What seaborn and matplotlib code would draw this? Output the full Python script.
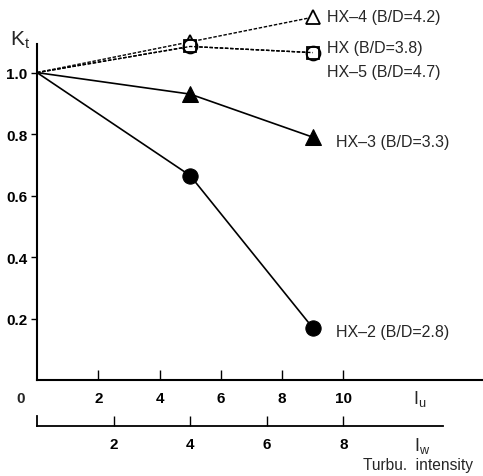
import matplotlib
matplotlib.use("Agg")
import matplotlib.pyplot as plt
import seaborn as sns
import pandas as pd

# turbulence intensity Iu (%) of the measured points
iu = [0, 5, 9]
# Kt values per section model
hx2 = [1.0, 0.665, 0.17]
hx3 = [1.0, 0.93, 0.79]
hx4 = [1.0, 1.10, 1.18]
hx = [1.0, 1.085, 1.065]
hx5 = [1.0, 1.085, 1.065]

labels = ["HX\u20132 (B/D=2.8)", "HX\u20133 (B/D=3.3)", "HX\u20134 (B/D=4.2)",
          "HX (B/D=3.8)", "HX\u20135 (B/D=4.7)"]
iu_ticks = [2, 4, 6, 8, 10]
iw_ticks = [2, 4, 6, 8]
y_ticks = [0.2, 0.4, 0.6, 0.8, 1.0]

sns.set_style("white")
plt.rcParams["font.family"] = ["Liberation Sans", "DejaVu Sans"]

fig = plt.figure(figsize=(4.83, 4.77), dpi=100)
ax = fig.add_axes([37 / 483, 96 / 477, 446 / 483, 336 / 477])

df = pd.DataFrame({"Iu": iu, "HX-2": hx2, "HX-3": hx3, "HX-4": hx4, "HX": hx, "HX-5": hx5})
dash = (0, (2.5, 1.2))

# solid lines, filled markers (no marker at the origin)
sns.lineplot(data=df, x="Iu", y="HX-2", ax=ax, color="black", lw=1.2,
             marker="o", markersize=11, markerfacecolor="black",
             markeredgecolor="black", markevery=[1, 2], clip_on=False)
sns.lineplot(data=df, x="Iu", y="HX-3", ax=ax, color="black", lw=1.2,
             marker="^", markersize=11, markerfacecolor="black",
             markeredgecolor="black", markevery=[1, 2], clip_on=False)
# dashed lines, open markers
sns.lineplot(data=df, x="Iu", y="HX-4", ax=ax, color="black", lw=1.0,
             linestyle=dash, marker="^", markersize=10,
             markerfacecolor="white", markeredgecolor="black",
             markeredgewidth=1.3, markevery=[1, 2], clip_on=False)
sns.lineplot(data=df, x="Iu", y="HX", ax=ax, color="black", lw=1.0,
             linestyle=dash, marker="s", markersize=9,
             markerfacecolor="white", markeredgecolor="black",
             markeredgewidth=1.3, markevery=[1, 2], clip_on=False)
sns.lineplot(data=df, x="Iu", y="HX-5", ax=ax, color="black", lw=1.0,
             linestyle=dash, marker="o", markersize=10,
             markerfacecolor="none", markeredgecolor="black",
             markeredgewidth=1.3, markevery=[1, 2], clip_on=False)

ax.set_xlim(0, 14.56)
ax.set_ylim(0, 1.093)
ax.set_xlabel("")
ax.set_ylabel("")
for s in ["top", "right"]:
    ax.spines[s].set_visible(False)
for s in ["left", "bottom"]:
    ax.spines[s].set_color("black")
    ax.spines[s].set_linewidth(1.5)

ax.set_xticks(iu_ticks)
ax.set_xticklabels([str(t) for t in iu_ticks], fontsize=11, fontweight="bold")
ax.tick_params(axis="x", direction="in", length=7, width=1, pad=8, colors="black")
ax.set_yticks(y_ticks)
ax.set_yticklabels([f"{t:.1f}" for t in y_ticks], fontsize=11, fontweight="bold")
ax.tick_params(axis="y", direction="out", length=4, width=1, pad=3, colors="black")
ax.tick_params(left=True, bottom=True)

ax.text(-0.38, -0.058, "0", fontsize=11, fontweight="bold", ha="right", va="center",
        clip_on=False)
ax.text(12.5, -0.058, r"I$_\mathregular{u}$", fontsize=13, ha="center", va="center",
        clip_on=False)
fig.text(10 / 483, 1 - 40 / 477, r"K$_\mathregular{t}$", fontsize=15, ha="left", va="center")

# series labels
ax.text(9.48, 1.184, labels[2], fontsize=11.5, ha="left", va="center", clip_on=False)
ax.text(9.48, 1.083, labels[3], fontsize=11.5, ha="left", va="center", clip_on=False)
ax.text(9.48, 1.005, labels[4], fontsize=11.5, ha="left", va="center", clip_on=False)
ax.text(9.77, 0.777, labels[1], fontsize=11.5, ha="left", va="center", clip_on=False)
ax.text(9.77, 0.159, labels[0], fontsize=11.5, ha="left", va="center", clip_on=False)

# secondary Iw scale
ax2 = fig.add_axes([37 / 483, 50 / 477, 406 / 483, 10 / 477])
ax2.set_xlim(0, 10.6)
ax2.set_ylim(0, 1)
ax2.set_yticks([])
for s in ["top", "right"]:
    ax2.spines[s].set_visible(False)
ax2.spines["bottom"].set_linewidth(1.3)
ax2.spines["left"].set_linewidth(1.3)
ax2.spines["bottom"].set_color("black")
ax2.spines["left"].set_color("black")
ax2.set_xticks(iw_ticks)
ax2.set_xticklabels([str(t) for t in iw_ticks], fontsize=11, fontweight="bold")
ax2.tick_params(axis="x", direction="in", length=7, width=1, pad=8, colors="black", bottom=True)
ax2.patch.set_alpha(0)
ax2.text(10.05, -1.9, r"I$_\mathregular{w}$", fontsize=13, ha="center", va="center",
         clip_on=False)
fig.text(473 / 483, 1 - 466 / 477, "Turbu.  intensity", fontsize=11.2, ha="right", va="center")

fig.savefig("out.png", dpi=100)
